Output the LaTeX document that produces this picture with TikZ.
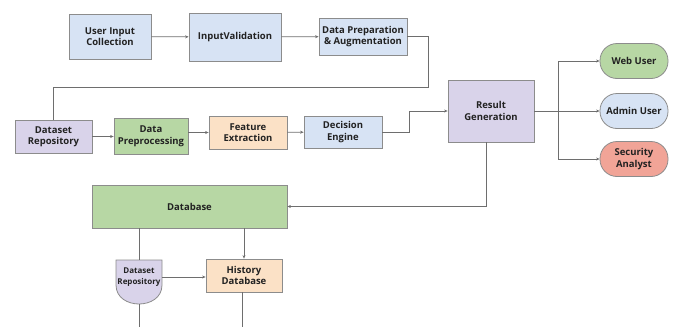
\documentclass[tikz,border=0pt]{standalone}
\usepackage{fontspec}
\setmainfont{Open Sans}
\usetikzlibrary{arrows.meta}
\definecolor{bgray}{HTML}{8C8C8C}
\definecolor{lgray}{HTML}{6E6E6E}
\definecolor{cblue}{HTML}{D7E3F4}
\definecolor{cviolet}{HTML}{D9D3EA}
\definecolor{cgreen}{HTML}{B7D7A4}
\definecolor{corange}{HTML}{FBE1C6}
\definecolor{cred}{HTML}{F1A497}
\definecolor{tdark}{HTML}{222222}
\begin{document}
\begin{tikzpicture}[x=1pt,y=-1pt,
  font=\bfseries\fontsize{9.5}{11.5}\selectfont,
  box/.style={draw=bgray, line width=0.8pt, align=center, inner sep=1pt, text=tdark},
  pill/.style={box, rounded corners=17pt, minimum width=68pt, minimum height=35pt},
  conn/.style={draw=lgray, line width=0.7pt},
  arr/.style={conn, -{Stealth[length=3.5pt,width=3pt]}}]
\useasboundingbox (0,0) rectangle (673,327);

% top row
\node[box, fill=cblue, minimum width=82pt, minimum height=45pt] (uic) at (110,36.5) {User Input\\Collection};
\node[box, fill=cblue, minimum width=92pt, minimum height=48pt] (iv) at (235,37) {InputValidation};
\node[box, fill=cblue, minimum width=88pt, minimum height=37pt] (dp) at (363,36.5) {Data Preparation\\\& Augmentation};

% middle row
\node[box, fill=cviolet, minimum width=77pt, minimum height=33pt] (dsr) at (53.5,136.5) {Dataset\\Repository};
\node[box, fill=cgreen, minimum width=74pt, minimum height=36pt] (dpp) at (151,136) {Data\\Preprocessing};
\node[box, fill=corange, minimum width=78pt, minimum height=33pt] (fe) at (248,132.5) {Feature\\Extraction};
\node[box, fill=cblue, minimum width=78pt, minimum height=32pt] (de) at (343,132) {Decision\\Engine};
\node[box, fill=cviolet, minimum width=86pt, minimum height=62pt] (rg) at (491,111) {Result\\Generation};

% users
\node[pill, fill=cgreen] (wu) at (634,61) {Web User};
\node[pill, fill=cblue] (au) at (634,111) {Admin User};
\node[pill, fill=cred] (sa) at (634,159) {Security\\Analyst};

% lower part
\node[box, fill=cgreen, minimum width=195pt, minimum height=43pt] (db) at (189.5,206.5) {Database};
\node[box, fill=corange, minimum width=76pt, minimum height=33pt] (hdb) at (244,275.5) {History\\Database};
\fill[cviolet, draw=bgray, line width=0.8pt] (116,260) -- (162,260) -- (162,285)
  .. controls (162,298) and (150,304) .. (139,304)
  .. controls (128,304) and (116,298) .. (116,285) -- cycle;
\node[align=center, text=tdark, font=\bfseries\fontsize{8}{11}\selectfont, minimum width=46pt, minimum height=34pt, inner sep=0pt] (dsr2) at (139,277) {Dataset\\Repository};
\coordinate (dsrbot) at (139,304);
\coordinate (bot1) at (139,327);
\coordinate (bot2) at (242,327);

% connectors
\draw[arr] (uic) -- (iv);
\draw[arr] (iv) -- (dp);
\coordinate (c1) at (428,87);
\draw[conn] (dp.east) -| (c1) -| (dsr.north);
\draw[arr] (dsr) -- (dsr -| dpp.west);
\draw[arr] (fe.west -| dpp.east) -- (fe.west);
\draw[arr] (fe) -- (de);
\coordinate (c2) at (409,132);
\draw[arr] (de.east) -- (c2) |- (rg.west);
\coordinate (tr) at (558,111);
\draw[conn] (rg.east) -- (tr);
\draw[arr] (tr) |- (wu.west);
\draw[arr] (tr) -- (au.west);
\draw[arr] (tr) |- (sa.west);
\coordinate (c3) at (486,142);
\draw[arr] (c3) |- (db.east);
\draw[conn] (dsr2 |- db.south) -- (dsr2.north);
\draw[arr] (hdb |- db.south) -- (hdb.north);
\draw[arr] (dsr2.east) -- (dsr2.east -| hdb.west);
\draw[conn] (dsrbot) -- (bot1);
\draw[conn] (hdb.south -| bot2) -- (bot2);
\end{tikzpicture}
\end{document}
